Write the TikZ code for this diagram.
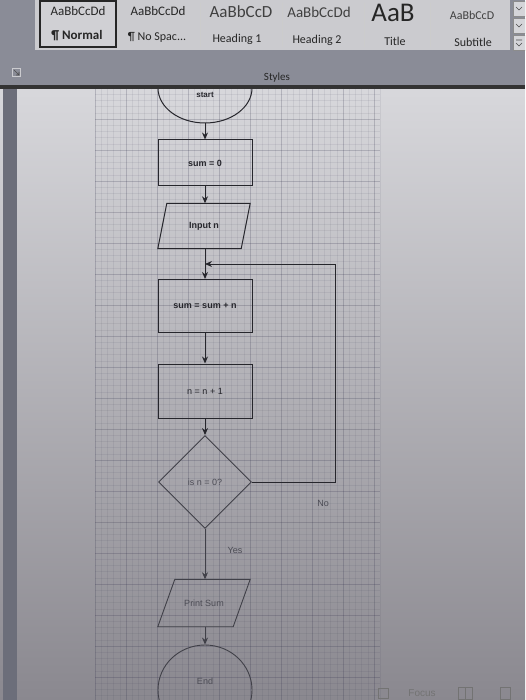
\documentclass[tikz,border=0pt]{standalone}
\usepackage{fontspec}
\setmainfont{Liberation Sans}
\newfontfamily\wordfont{Carlito}
\usetikzlibrary{positioning,arrows.meta,shapes.geometric}
\definecolor{ribbon}{HTML}{CBCBCF}
\definecolor{band}{HTML}{8A8C97}
\definecolor{pagetop}{HTML}{D8D8DC}
\definecolor{pagebot}{HTML}{8A888F}
\definecolor{leftbar}{HTML}{6C6E7A}
\definecolor{gridline}{HTML}{30304A}
\definecolor{ink}{HTML}{26262C}
\definecolor{inklo}{HTML}{404048}
\definecolor{txtlo}{HTML}{4C4C55}

\begin{document}
\begin{tikzpicture}[x=1pt,y=-1pt,font=\fontsize{9}{10}\selectfont,
  >={Stealth[length=7pt,width=6pt]}]
  \tikzset{
    flow/.style={draw=ink,line width=1pt},
    flowlo/.style={draw=inklo,line width=0.9pt},
    box/.style={rectangle,flow,minimum width=94pt,inner sep=0pt,font=\fontsize{9}{10}\selectfont\bfseries,text=ink},
    iobox/.style={rectangle,minimum width=92pt,inner sep=0pt,font=\fontsize{9}{10}\selectfont\bfseries,text=ink},
    term/.style={ellipse,flow,minimum width=94pt,inner sep=0pt},
    test/.style={diamond,flowlo,aspect=1,minimum width=93pt,minimum height=93pt,inner sep=0pt,text=txtlo},
    lbl/.style={inner sep=0pt,text=txtlo},
    smp/.style={inner sep=0pt,text=black!85,anchor=base},
    stylelbl/.style={inner sep=0pt,text=black!85,font=\wordfont\fontsize{12}{13}\selectfont}
  }
  \useasboundingbox (0,0) rectangle (525,700);
  \clip (0,0) rectangle (525,700);

  \shade[top color=pagetop,bottom color=pagebot] (0,85) rectangle (525,700);
  \fill[leftbar] (3,85) rectangle (17,700);
  \foreach \g in {0,6.2,...,286}
    \draw[gridline,opacity=0.08,line width=0.3pt] (95+\g,88) -- (95+\g,700);
  \foreach \g in {0,6.2,...,613}
    \draw[gridline,opacity=0.08,line width=0.3pt] (95,88+\g) -- (380,88+\g);
  \foreach \g in {0,31,...,286}
    \draw[gridline,opacity=0.15,line width=0.5pt] (95+\g,88) -- (95+\g,700);
  \foreach \g in {0,31,...,613}
    \draw[gridline,opacity=0.15,line width=0.5pt] (95,88+\g) -- (380,88+\g);

  \node[term,minimum height=70pt] (begin) at (205,88) {};
  \node[lbl,text=ink,font=\fontsize{8}{9}\selectfont\bfseries] (begintxt) at (205,95) {start};
  \node[box,minimum height=46pt] (sumzero) at (205,163) {sum = 0};
  \node[iobox,minimum height=45pt] (inputn) at (204,226) {Input n};
  \draw[flow] ([xshift=9pt]inputn.north west) -- (inputn.north east)
    -- ([xshift=-9pt]inputn.south east) -- (inputn.south west) -- cycle;
  \coordinate (loopin) at (205,264);
  \node[box,minimum height=53pt] (sumadd) at (205,306) {sum = sum + n};
  \node[box,minimum height=54pt,font=\fontsize{9}{10}\selectfont] (incr) at (205,391) {n = n + 1};
  \node[test] (check) at (205,482) {is n = 0?};
  \coordinate (loopout) at (335,482);
  \node[iobox,text=txtlo,font=\fontsize{9}{10}\selectfont,minimum height=47pt] (printsum) at (204,603) {Print Sum};
  \draw[flowlo] ([xshift=17pt]printsum.north west) -- (printsum.north east)
    -- ([xshift=-17pt]printsum.south east) -- (printsum.south west) -- cycle;
  \node[term,flowlo,minimum height=90pt] (stop) at (205,690) {};
  \node[lbl] (stoptxt) at (205,681) {End};
  \node[lbl] (nolbl) at (323,503) {No};
  \node[lbl] (yeslbl) at (235,550) {Yes};

  \draw[flow,->] (begin.south) -- (sumzero);
  \draw[flow,->] (sumzero) -- ([xshift=1pt]inputn.north);
  \draw[flow,->] ([xshift=1pt]inputn.south) -- (sumadd);
  \draw[flow,->] (sumadd) -- (incr);
  \draw[flow,->] (incr) -- (check);
  \draw[flow,->] (check.east) -- (loopout) |- (loopin);
  \draw[flowlo,->] (check) -- ([xshift=1pt]printsum.north);
  \draw[flowlo,->] ([xshift=1pt]printsum.south) -- (stop);

  \fill[band] (0,0) rectangle (525,86);
  \fill[black!80] (0,85) rectangle (525,89);
  \fill[ribbon] (35,0) rectangle (510,50);
  \fill[ribbon!90!white] (41,2) rectangle (115,46);
  \draw[black!85,line width=2.5pt] (40,1) rectangle (116,47);
  \foreach \xs in {118,200,282,364,430}
    \draw[black!20] (\xs,3) -- (\xs,47);

  \begin{scope}
    \clip (44,0) rectangle (112,30);
    \node[smp,font=\wordfont\fontsize{13}{14}\selectfont] (sNormal) at (78,16) {AaBbCcDd};
  \end{scope}
  \begin{scope}
    \clip (122,0) rectangle (191,30);
    \node[smp,font=\wordfont\fontsize{13}{14}\selectfont] (sNoSpac) at (158,16) {AaBbCcDd};
  \end{scope}
  \begin{scope}
    \clip (203,0) rectangle (271,30);
    \node[smp,font=\wordfont\fontsize{17}{18}\selectfont,text=black!75] (sHeadA) at (241,18) {AaBbCcD};
  \end{scope}
  \begin{scope}
    \clip (283,0) rectangle (349,30);
    \node[smp,font=\wordfont\fontsize{15}{16}\selectfont,text=black!75] (sHeadB) at (319,18) {AaBbCcDd};
  \end{scope}
  \node[smp,font=\wordfont\fontsize{27}{28}\selectfont] (sTitle) at (393,22) {AaB};
  \begin{scope}
    \clip (440,0) rectangle (503,30);
    \node[smp,font=\wordfont\fontsize{12}{13}\selectfont,text=black!75] (sSub) at (472,20) {AaBbCcD};
  \end{scope}

  \node[stylelbl,font=\wordfont\fontsize{13}{14}\selectfont\bfseries] (lNormal) at (77,36) {¶ Normal};
  \node[stylelbl] (lNoSpac) at (157,37) {¶ No Spac...};
  \node[stylelbl] (lHeadA) at (237,39) {Heading 1};
  \node[stylelbl] (lHeadB) at (317,40) {Heading 2};
  \node[stylelbl] (lTitle) at (395,41) {Title};
  \node[stylelbl] (lSub) at (473,42) {Subtitle};
  \node[stylelbl,font=\wordfont\fontsize{11}{12}\selectfont] (lStyles) at (277,78) {Styles};

  \draw[ribbon,line width=0.6pt] (12,68) rectangle (20,76);
  \draw[black!70,line width=0.6pt] (14,70) -- (19,75) (19,72) -- (19,75) -- (16,75);
  \foreach \ys in {0,17,34}
    \draw[black!45,fill=ribbon!80!white] (513,\ys+1) rectangle (525,\ys+16);
  \draw[black!70,line width=0.6pt] (516,7) -- (519,10) -- (522,7);
  \draw[black!70,line width=0.6pt] (516,24) -- (519,27) -- (522,24);
  \draw[black!70,line width=0.6pt] (516,40) -- (522,40) (516,43) -- (519,46) -- (522,43);

  \node[lbl,text=black!55,font=\fontsize{10}{11}\selectfont] (focus) at (422,693) {Focus};
  \draw[black!55,line width=0.6pt] (378,688) rectangle (388,698);
  \draw[black!55,line width=0.6pt] (458,687) rectangle (472,699) (465,687) -- (465,699);
  \draw[black!55,line width=0.6pt] (500,687) rectangle (510,699);
\end{tikzpicture}
\end{document}
